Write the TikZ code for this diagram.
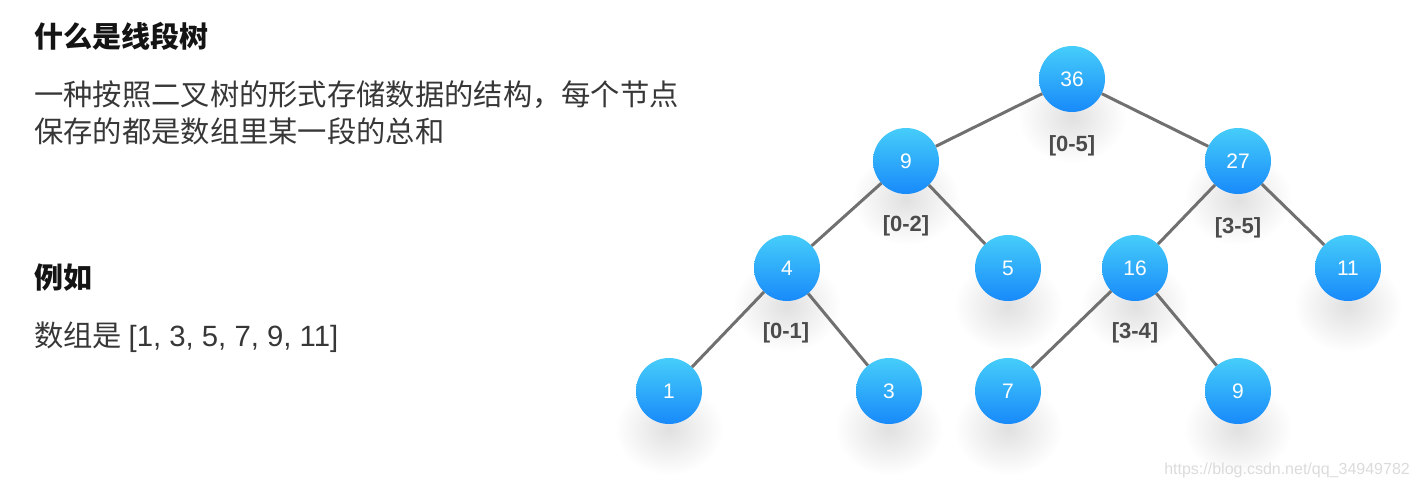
\documentclass[tikz,border=0pt]{standalone}
\usepackage{fontspec}
\setmainfont{Liberation Sans}
\newfontfamily\cjk{Noto Sans CJK SC}
\usetikzlibrary{fadings}
\definecolor{nodetop}{RGB}{70,205,250}
\definecolor{nodebot}{RGB}{24,138,250}
\definecolor{edgegray}{RGB}{112,112,112}
\definecolor{labelgray}{RGB}{75,75,75}
\definecolor{bodytext}{RGB}{55,55,55}
\definecolor{titletext}{RGB}{20,20,20}
\tikzfading[name=shadowfade, inner color=transparent!0, outer color=transparent!100]
\tikzset{
  treenode/.style={circle, minimum size=66pt, inner sep=0pt, top color=nodetop, bottom color=nodebot,
    text=white, font=\fontsize{21}{21}\selectfont},
  rangelabel/.style={text=labelgray, font=\fontsize{22}{22}\selectfont\bfseries, inner sep=0pt},
  treeedge/.style={draw=edgegray, line width=3pt},
  titlestyle/.style={anchor=west, inner sep=0pt, text=titletext, font=\fontsize{29}{29}\selectfont\cjk\bfseries},
  bodystyle/.style={anchor=west, inner sep=0pt, text=bodytext, font=\fontsize{29.3}{29.3}\selectfont\cjk},
  nodeshadow/.style={fill=black, opacity=0.12, path fading=shadowfade}
}
\begin{document}
\begin{tikzpicture}[x=1pt, y=-1pt]
\useasboundingbox (0,0) rectangle (1420,488);
% texts
\node[titlestyle] (title) at (34,36) {什么是线段树};
\node[bodystyle] (line1) at (34,95) {一种按照二叉树的形式存储数据的结构，每个节点};
\node[bodystyle] (line2) at (34,131) {保存的都是数组里某一段的总和};
\node[titlestyle] (eg) at (34,278) {例如};
\node[bodystyle] (arr) at (34,337) {数组是 {\rmfamily [1, 3, 5, 7, 9, 11]}};
% shadows
\foreach \x/\y in {1072/79, 906/161, 1238/161, 787/268, 1008/268, 1135/268, 1348/268, 669/391, 889/391, 1008/391, 1238/391}
  \fill[nodeshadow] (\x,\y+38) ellipse (54 and 46);
% nodes
\node[treenode] (n36) at (1072,79) {36};
\node[treenode] (n9) at (906,161) {9};
\node[treenode] (n27) at (1238,161) {27};
\node[treenode] (n4) at (787,268) {4};
\node[treenode] (n5) at (1008,268) {5};
\node[treenode] (n16) at (1135,268) {16};
\node[treenode] (n11) at (1348,268) {11};
\node[treenode] (n1) at (669,391) {1};
\node[treenode] (n3) at (889,391) {3};
\node[treenode] (n7) at (1008,391) {7};
\node[treenode] (n9b) at (1238,391) {9};
% edges
\draw[treeedge] (n36) -- (n9);
\draw[treeedge] (n36) -- (n27);
\draw[treeedge] (n9) -- (n4);
\draw[treeedge] (n9) -- (n5);
\draw[treeedge] (n27) -- (n16);
\draw[treeedge] (n27) -- (n11);
\draw[treeedge] (n4) -- (n1);
\draw[treeedge] (n4) -- (n3);
\draw[treeedge] (n16) -- (n7);
\draw[treeedge] (n16) -- (n9b);
% range labels
\node[rangelabel] (r05) at (1072,146) {[0-5]};
\node[rangelabel] (r02) at (906,226) {[0-2]};
\node[rangelabel] (r35) at (1238,228) {[3-5]};
\node[rangelabel] (r01) at (786,333) {[0-1]};
\node[rangelabel] (r34) at (1135,333) {[3-4]};
% watermark
\node[anchor=east, inner sep=0pt, text=black!14, font=\fontsize{16}{16}\selectfont] (wm) at (1410,470) {https://blog.csdn.net/qq\_34949782};
\end{tikzpicture}
\end{document}
